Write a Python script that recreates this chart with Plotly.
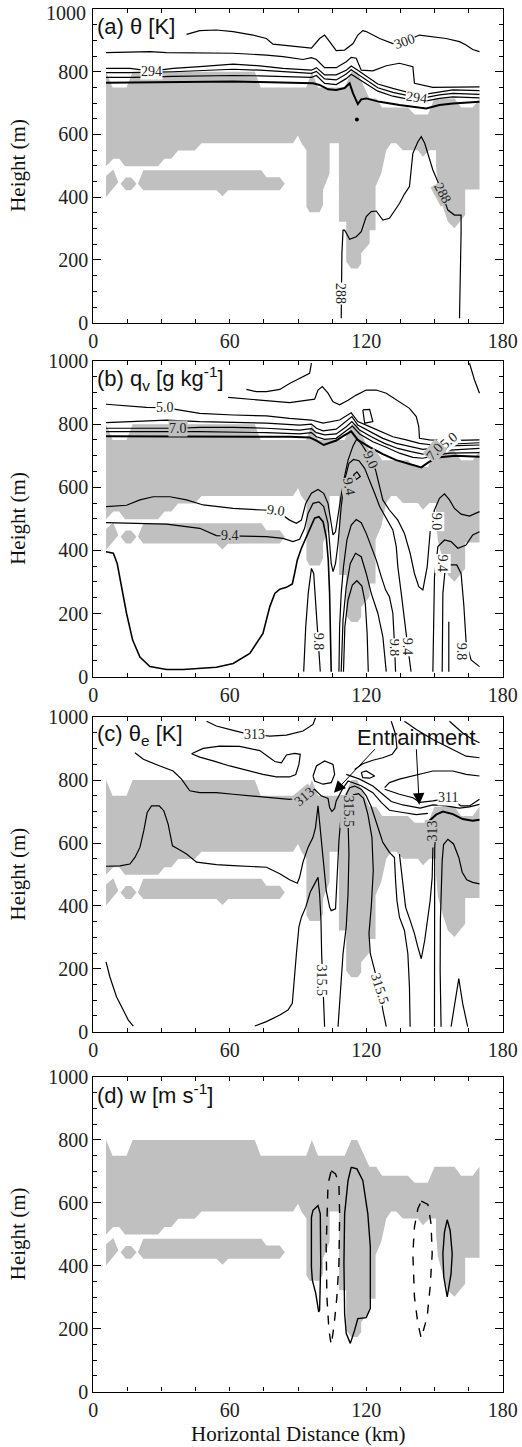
import plotly.graph_objects as go

# ---------------- axis ticks / texts ----------------
x_tick_step = 60
y_tick_step = 200
panel_titles = ["(a) θ [K]", "(b) q<sub>v</sub> [g kg<sup>-1</sup>]",
                "(c) θ<sub>e</sub> [K]", "(d) w [m s<sup>-1</sup>]"]
y_title = "Height (m)"
x_title = "Horizontal Distance (km)"
top_tick_label = "1000"

# ---------------- cloud mask (km, m) ----------------
cloud_main = [(5.6, 800), (8.5, 750), (14.6, 750), (17.3, 800), (71.0, 800), (73.6, 750), (93.6, 750),
              (96.1, 800), (98.8, 750), (110.5, 750), (113.5, 800), (116.0, 800), (121.4, 715), (124.4, 715),
              (127.0, 686), (138.3, 686), (141.3, 664), (147.1, 664), (150.0, 715), (158.8, 715), (161.7, 686),
              (166.8, 686), (169.8, 715), (169.8, 425), (163.5, 425), (163.5, 343), (158.8, 301), (155.9, 322),
              (153.7, 370), (151.5, 430), (150.7, 500), (150.7, 550), (147.8, 550), (144.9, 529), (142.7, 550),
              (136.1, 550), (133.2, 572), (131.0, 572), (128.8, 550), (126.6, 476), (124.1, 434), (124.1, 295),
              (121.5, 295), (121.5, 253), (117.8, 221), (117.8, 189), (116.3, 173), (113.4, 173), (111.2, 194),
              (111.2, 322), (108.0, 322), (108.0, 572), (103.9, 572), (103.9, 476), (101.0, 423), (101.0, 375),
              (99.5, 352), (95.1, 352), (93.7, 370), (93.7, 550), (91.5, 572), (90.0, 597), (87.8, 572),
              (47.6, 572), (44.6, 549), (37.3, 549), (34.3, 523), (31.3, 523), (28.5, 499), (13.9, 499),
              (11.4, 523), (8.8, 523), (5.6, 499)]
cloud_blob = [(5.6, 468), (8.8, 488), (11.0, 448), (5.6, 401)]
cloud_diamond = [(12.0, 443), (14.3, 463), (16.6, 463), (19.0, 443), (16.6, 422), (14.3, 422)]
cloud_band = [(19.6, 443), (22.0, 486), (73.9, 486), (76.1, 464), (82.0, 464), (84.2, 443), (82.0, 422),
              (59.3, 422), (56.8, 403), (54.1, 422), (22.0, 422)]

# ---------------- (a) theta contours ----------------
a_300 = [(41.0, 919), (46.8, 931), (54.1, 933), (61.5, 928), (70.2, 917), (76.1, 906), (79.0, 888), (86.3, 882),
         (95.9, 875), (99.5, 906), (101.7, 917), (103.9, 896), (106.8, 867), (110.5, 869), (114.2, 890),
         (116.3, 917), (118.5, 931), (120.0, 928), (125.9, 906), (131.7, 890), (136.8, 896), (143.4, 917),
         (149.3, 912), (155.1, 906), (161.0, 896), (163.9, 885), (166.8, 871), (169.8, 864)]
a_298 = [(5.6, 861), (17.6, 863), (24.9, 864), (32.2, 861), (46.8, 859), (61.5, 859), (76.1, 853), (83.4, 848),
         (92.2, 839), (95.9, 845), (98.1, 839), (101.7, 813), (106.8, 813), (111.2, 832), (113.4, 846),
         (115.6, 843), (117.8, 805), (122.9, 803), (128.8, 819), (134.6, 827), (140.5, 816), (141.2, 763),
         (149.3, 750), (161.0, 750), (169.8, 752)]
a_294 = [(5.6, 811), (16.1, 811), (25.6, 802), (35.1, 811), (46.8, 816), (61.5, 824), (73.2, 819), (83.4, 811),
         (95.9, 805), (98.1, 813), (101.7, 790), (106.8, 790), (111.2, 805), (113.4, 818), (116.3, 805),
         (120.0, 786), (125.1, 761), (131.7, 747), (139.0, 733), (144.2, 726), (152.2, 736), (158.1, 742),
         (169.8, 740)]
a_292 = [(5.6, 797), (16.1, 797), (35.1, 800), (46.8, 803), (61.5, 808), (73.2, 805), (83.4, 800), (95.9, 795),
         (98.1, 801), (101.7, 777), (106.8, 774), (111.2, 793), (113.4, 806), (116.3, 792), (120.0, 774),
         (125.1, 749), (131.7, 734), (139.0, 722), (144.2, 715), (152.2, 726), (158.1, 731), (169.8, 728)]
a_290 = [(5.6, 782), (17.6, 782), (35.1, 785), (46.8, 787), (61.5, 788), (73.2, 787), (83.4, 785), (95.9, 782),
         (98.1, 788), (101.7, 763), (106.8, 759), (111.2, 778), (113.4, 792), (116.3, 778), (120.0, 761),
         (125.1, 738), (131.7, 722), (139.0, 712), (144.2, 704), (152.2, 715), (158.1, 720), (169.8, 717)]
a_289 = [(5.6, 765), (17.6, 766), (32.2, 768), (46.8, 769), (61.5, 769), (73.2, 767), (83.4, 765), (96.6, 763),
         (99.5, 758), (103.2, 744), (106.8, 742), (110.5, 748), (112.7, 763), (114.2, 731), (116.3, 697),
         (117.8, 712), (120.0, 715), (125.9, 704), (134.6, 694), (142.0, 686), (146.4, 683), (152.2, 694),
         (158.1, 699), (169.8, 704)]
a_288 = [(109.0, 14), (109.0, 125), (109.3, 221), (109.8, 295), (110.5, 295), (112.7, 266), (115.6, 274),
         (117.8, 290), (120.0, 338), (122.2, 354), (124.4, 356), (127.3, 327), (130.2, 333), (134.6, 380),
         (136.8, 410), (139.0, 434), (140.5, 540), (142.7, 577), (144.2, 593), (145.7, 572), (147.1, 540),
         (149.3, 487), (151.5, 449), (155.9, 359), (158.8, 343), (161.7, 343), (161.7, 285), (161.3, 125),
         (161.0, 14)]
a_dot = (115.9, 648)
a_labels = [("300", 136.8, 896, -20), ("294", 25.6, 802, 0), ("294", 142.0, 717, 8),
            ("288", 109.0, 94, 90), ("288", 153.7, 412, 62)]

# ---------------- (b) qv contours ----------------
b_top1 = [(67.3, 910), (71.7, 903), (76.1, 903), (82.0, 910), (86.3, 929), (90.7, 945), (95.1, 961), (95.9, 993)]
b_top2 = [(165.4, 993), (167.6, 940), (169.8, 898)]
b_loop = [(118.5, 845), (121.5, 847), (122.9, 808), (119.3, 803), (118.5, 845)]
b_4 = [(59.3, 885), (68.8, 879), (86.3, 868), (97.3, 879), (98.8, 908), (100.7, 919), (103.2, 898), (105.4, 871),
       (108.3, 861), (112.0, 876), (115.6, 892), (120.0, 908), (124.4, 908), (128.8, 898), (134.6, 871),
       (139.0, 850), (142.0, 824), (143.1, 792), (143.4, 755), (147.8, 750), (155.1, 748), (169.8, 750)]
b_50 = [(5.6, 863), (17.6, 855), (23.4, 853), (31.5, 852), (38.0, 845), (46.8, 834), (61.5, 829), (76.1, 826),
        (86.3, 818), (95.9, 813), (101.0, 803), (108.3, 813), (113.4, 836), (116.3, 808), (121.5, 792),
        (126.6, 776), (131.7, 760), (137.6, 750), (143.4, 739), (149.3, 734), (155.9, 737), (162.4, 739),
        (169.8, 741)]
b_60 = [(5.6, 805), (17.6, 808), (32.2, 813), (46.8, 808), (61.5, 805), (76.1, 803), (90.7, 797), (95.9, 800),
        (98.1, 787), (101.0, 779), (106.8, 784), (111.2, 808), (113.7, 824), (116.3, 797), (121.5, 776),
        (127.3, 755), (133.2, 739), (139.0, 729), (144.9, 720), (150.7, 725), (156.6, 731), (169.8, 734)]
b_70 = [(5.6, 787), (17.6, 787), (37.3, 787), (46.8, 790), (61.5, 790), (76.1, 787), (90.7, 781), (95.9, 786),
        (98.1, 773), (101.7, 766), (106.8, 769), (111.2, 792), (113.7, 808), (117.1, 781), (122.2, 760),
        (128.0, 739), (133.9, 723), (139.7, 713), (144.9, 705), (150.7, 713), (156.6, 718), (169.8, 723)]
b_80 = [(5.6, 776), (17.6, 776), (46.8, 776), (76.1, 773), (90.7, 769), (95.9, 773), (98.1, 760), (101.7, 752),
        (106.8, 755), (111.2, 779), (113.9, 794), (117.1, 769), (122.9, 744), (128.8, 727), (134.6, 708),
        (140.5, 695), (144.9, 692), (150.7, 702), (156.6, 708), (169.8, 710)]
b_85 = [(5.6, 762), (46.8, 762), (86.3, 760), (95.1, 758), (98.1, 748), (101.3, 734), (103.9, 741), (106.8, 748),
        (109.8, 762), (113.4, 777), (116.3, 750), (121.5, 727), (127.3, 705), (133.2, 686), (139.0, 674),
        (144.2, 663), (147.8, 681), (152.2, 695), (159.3, 700), (169.8, 697)]
b_90 = [(5.6, 539), (14.6, 543), (20.5, 560), (26.3, 570), (33.7, 570), (41.0, 560), (48.3, 544), (61.5, 533),
        (74.6, 528), (80.5, 526), (86.3, 496), (89.3, 486), (91.5, 496), (93.4, 549), (95.9, 581), (98.8, 593),
        (101.3, 581), (103.2, 549), (104.6, 486), (105.4, 449), (106.5, 459), (108.0, 528), (109.8, 612),
        (112.0, 686), (114.2, 731), (115.9, 754), (118.2, 734), (120.7, 705), (122.2, 686), (124.1, 655),
        (125.9, 602), (127.3, 560), (130.2, 528), (133.9, 496), (136.8, 454), (139.3, 391), (141.2, 327),
        (143.1, 285), (144.9, 275), (146.8, 348), (148.3, 475), (150.0, 528), (152.2, 565), (154.4, 579),
        (156.6, 560), (158.8, 533), (161.7, 515), (165.4, 509), (169.8, 523)]
b_94 = [(5.6, 488), (17.6, 486), (32.2, 483), (46.8, 470), (54.1, 447), (60.0, 446), (67.3, 446), (76.1, 444),
        (83.4, 438), (87.8, 428), (90.7, 435), (92.9, 470), (94.4, 517), (96.6, 549), (99.2, 554), (101.3, 539),
        (103.2, 486), (103.9, 412), (104.6, 359), (105.4, 333), (106.5, 359), (107.6, 422), (109.0, 539),
        (110.5, 623), (112.4, 676), (114.4, 688), (116.8, 684), (119.3, 660), (121.5, 623), (123.7, 581),
        (125.9, 539), (128.8, 502), (131.7, 465), (133.2, 412), (133.9, 348), (135.4, 264), (136.8, 190),
        (137.9, 116), (139.7, 16)]
b_94r = [(149.3, 16), (149.6, 158), (150.0, 317), (151.5, 412), (154.4, 433), (157.3, 428), (160.3, 407),
         (163.9, 417), (166.8, 449), (169.8, 459)]
b_94loop = [(114.4, 639), (115.9, 649), (117.4, 634), (115.6, 625), (114.4, 639)]
b_98 = [(5.6, 396), (8.8, 391), (10.5, 359), (12.4, 285), (14.6, 201), (17.3, 116), (20.5, 62), (24.9, 32),
        (32.2, 23), (39.5, 23), (46.8, 26), (54.1, 30), (61.5, 42), (68.8, 74), (74.6, 137), (77.6, 222),
        (79.8, 264), (82.0, 277), (84.9, 283), (87.5, 294), (88.5, 327), (89.7, 370), (91.5, 407), (93.7, 444),
        (95.4, 475), (97.3, 502), (99.2, 507), (101.0, 491), (102.4, 444), (103.3, 370), (103.9, 264),
        (104.3, 158), (104.6, 16)]
b_98b = [(108.0, 16), (108.3, 158), (109.0, 264), (110.0, 348), (111.5, 433), (113.4, 480), (115.6, 498),
         (117.8, 488), (120.0, 454), (122.2, 412), (124.4, 370), (126.6, 317), (128.5, 275), (130.2, 253),
         (131.7, 201), (132.4, 106), (132.9, 16)]
b_102 = [(109.0, 16), (109.8, 180), (111.2, 285), (113.0, 359), (115.3, 391), (117.8, 380), (120.0, 327),
         (122.2, 264), (125.1, 201), (127.3, 127), (128.8, 16)]
b_106 = [(110.0, 16), (110.6, 158), (112.0, 243), (113.9, 290), (115.9, 304), (118.1, 287), (119.6, 232),
         (120.4, 137), (120.9, 16)]
b_98t = [(92.5, 16), (93.4, 158), (94.5, 264), (95.9, 343), (96.9, 327), (98.1, 211), (98.9, 106), (99.8, 16)]
b_98r = [(153.4, 16), (153.7, 264), (154.8, 348), (157.3, 354), (159.8, 354), (161.7, 327), (162.9, 227),
         (163.9, 110), (166.1, 53), (169.8, 32)]
b_98s = [(156.3, 174), (156.3, 16)]
b_labels = [("5.0", 31.5, 852, 0), ("7.0", 37.3, 787, 0), ("9.0", 80.5, 526, 8), ("9.4", 60.0, 446, 0),
            ("9.0", 122.2, 686, 65), ("9.4", 112.4, 602, 80), ("9.0", 150.7, 491, 90), ("9.4", 153.7, 359, 90),
            ("9.8", 98.8, 111, 90), ("9.8", 132.4, 90, 90), ("9.4", 137.9, 95, 90), ("9.8", 161.7, 79, 90),
            ("5.0", 156.4, 748, -40), ("7.0", 150.2, 713, -50)]

# ---------------- (c) theta_e contours ----------------
c_top = [(49.8, 987), (54.1, 972), (61.5, 958), (65.9, 950), (71.0, 945), (77.6, 940), (84.9, 943), (92.2, 956),
         (96.6, 977), (97.7, 998)]
c_tongue = [(43.2, 884), (48.3, 901), (55.6, 908), (64.4, 907), (73.2, 894), (76.8, 876), (79.8, 859),
            (82.7, 855), (84.9, 880), (88.5, 885), (91.0, 882), (90.4, 850), (89.0, 818), (86.3, 810),
            (80.5, 810), (74.6, 818), (67.3, 831), (60.0, 845), (52.7, 861), (46.8, 873), (43.2, 884)]
c_313 = [(18.3, 887), (22.0, 866), (29.3, 845), (35.1, 829), (38.8, 803), (42.4, 766), (46.8, 760), (54.1, 760),
         (61.5, 755), (70.2, 750), (76.1, 745), (86.3, 739), (92.9, 747), (97.3, 771), (100.2, 750),
         (103.2, 742), (103.9, 713), (104.9, 700), (106.1, 710), (106.8, 734), (109.5, 771), (112.0, 797),
         (117.8, 782), (122.9, 760), (126.6, 729), (130.2, 704), (136.1, 697), (142.0, 690), (147.1, 694)]
c_loop1 = [(96.6, 813), (98.1, 845), (101.7, 861), (105.4, 850), (106.1, 818), (104.6, 792), (101.0, 787),
           (97.3, 797), (96.6, 813)]
c_loop2 = [(117.8, 824), (120.0, 829), (123.7, 813), (121.5, 806), (118.5, 808), (117.8, 824)]
c_t1 = [(131.0, 987), (132.9, 945), (133.5, 903), (131.4, 882), (127.3, 871), (122.9, 863), (118.5, 852),
        (114.9, 834)]
c_t2 = [(136.8, 987), (142.0, 961), (149.3, 929), (158.1, 898), (163.9, 876), (169.8, 871)]
c_t2b = [(156.6, 987), (162.4, 950), (166.8, 929), (169.8, 919)]
c_t3 = [(128.1, 776), (130.2, 792), (134.6, 803), (142.0, 816), (149.3, 829), (158.1, 829), (163.9, 818),
        (169.8, 813)]
c_311 = [(128.1, 771), (134.6, 755), (140.5, 744), (143.7, 729), (149.3, 734), (155.9, 742), (161.7, 718),
         (165.4, 718), (169.8, 739)]
c_t5 = [(111.2, 818), (117.1, 803), (122.9, 781), (127.3, 755), (131.0, 732), (136.1, 721), (143.7, 711),
        (149.3, 721), (155.1, 718), (161.0, 711), (165.4, 715), (169.8, 723)]
c_bold = [(147.8, 671), (150.7, 690), (153.7, 700), (158.1, 692), (162.4, 676), (166.8, 671), (169.8, 674)]
c_long = [(5.6, 526), (11.7, 527), (16.1, 533), (18.3, 554), (20.5, 586), (22.2, 639), (23.7, 697), (25.6, 718),
          (29.0, 718), (31.0, 702), (32.9, 660), (34.8, 591), (37.3, 581), (41.0, 565), (45.4, 539), (54.1, 531),
          (61.5, 528), (70.2, 526), (76.1, 523), (82.0, 502), (86.3, 483), (89.7, 472), (90.7, 491), (92.2, 539),
          (94.4, 586), (96.6, 618), (97.7, 649), (98.8, 718), (99.8, 649), (101.0, 544), (102.4, 449),
          (103.9, 396), (104.6, 385), (106.5, 391), (107.1, 480), (108.0, 607), (109.0, 692), (110.5, 744),
          (112.7, 776), (114.9, 781), (117.8, 771), (120.0, 750), (122.2, 715), (124.4, 665), (127.3, 602),
          (130.2, 570), (132.4, 554), (132.9, 480), (133.5, 417), (134.6, 364), (136.8, 322), (138.3, 248),
          (139.0, 143), (139.3, 16)]
c_v = [(134.6, 565), (136.1, 480), (137.3, 396), (139.3, 354), (141.2, 312), (142.7, 269), (144.2, 232),
       (145.7, 290), (147.1, 364), (148.1, 417), (149.0, 491), (149.3, 586)]
c_313r = [(150.0, 16), (150.0, 248), (150.0, 459), (150.1, 586), (150.7, 639), (151.2, 671)]
c_rr = [(152.9, 16), (152.5, 195), (152.6, 354), (153.4, 544), (154.0, 595), (155.9, 612), (158.4, 597),
        (160.7, 554), (162.2, 507), (164.2, 483), (166.8, 475), (169.8, 470)]
c_spike = [(157.3, 16), (158.8, 90), (160.7, 169), (162.4, 90), (164.6, 16)]
c_arch = [(71.0, 18), (76.1, 32), (82.0, 53), (85.6, 69), (87.5, 90), (88.2, 164), (89.3, 248), (90.4, 333),
          (91.5, 364), (93.4, 396), (95.4, 444), (97.3, 470), (98.8, 491), (99.5, 438), (100.1, 354),
          (100.4, 248), (101.0, 143), (101.3, 69), (101.7, 16)]
c_315 = [(107.6, 16), (108.8, 143), (109.8, 248), (111.2, 333), (112.0, 438), (112.4, 565), (112.0, 671),
         (112.7, 734), (114.4, 753), (116.6, 757), (118.8, 742), (120.7, 692), (122.5, 618), (123.1, 512),
         (122.2, 396), (121.2, 312), (121.8, 248), (123.7, 195), (125.9, 132), (127.3, 69), (128.8, 16)]
c_left = [(5.6, 222), (7.3, 174), (10.2, 111), (13.2, 69), (15.4, 37), (17.6, 18)]
c_labels = [("313", 71.0, 945, 0), ("313", 92.9, 747, -40), ("315.5", 112.0, 700, 90),
            ("315.5", 100.4, 164, 90), ("315.5", 125.9, 137, 72), ("311", 155.9, 745, 0),
            ("313", 149.3, 639, -90)]
entrain_text = ("Entrainment", 142.2, 937)
entrain_arrows = [((124.4, 903), (105.8, 760)), ((142.0, 903), (143.3, 722))]

# ---------------- (d) w contours ----------------
d_up1 = [(95.9, 554), (96.6, 576), (98.8, 591), (99.8, 565), (100.0, 407), (99.5, 259), (99.1, 253),
         (97.8, 312), (96.3, 354), (95.9, 396), (95.9, 554)]
d_dn1 = [(104.6, 702), (106.5, 692), (108.0, 660), (108.3, 565), (108.0, 407), (107.1, 301), (105.8, 206),
         (104.6, 148), (103.6, 195), (102.7, 301), (102.4, 459), (102.7, 586), (103.2, 660), (104.6, 702)]
d_up2 = [(113.4, 713), (115.9, 708), (118.5, 671), (120.7, 565), (121.8, 459), (121.8, 264), (120.0, 235),
         (116.3, 232), (114.9, 195), (113.0, 153), (111.2, 185), (110.5, 248), (110.2, 407), (110.5, 565),
         (112.0, 671), (113.4, 713)]
d_dn2 = [(144.2, 605), (147.1, 595), (148.5, 533), (149.0, 438), (148.1, 333), (146.8, 238), (144.2, 169),
         (142.7, 216), (141.2, 301), (140.5, 438), (141.2, 523), (142.7, 581), (144.2, 605)]
d_up3 = [(155.6, 546), (156.9, 512), (157.8, 438), (157.3, 375), (155.6, 301), (154.1, 364), (153.7, 438),
         (154.4, 507), (155.6, 546)]

# ---------------- figure ----------------
GRAY = "#c0c0c0"
SERIF = "Liberation Serif"
SANS = "Liberation Sans"
X_DOM = [93.3 / 522, 502.7 / 522]
H = 1447.0
W = 522.0
panel_px = [(9, 322.7), (361, 676.7), (717.2, 1031.7), (1077, 1391.5)]
CLOUDS = (cloud_main, cloud_blob, cloud_diamond, cloud_band)

fig = go.Figure()
axes = [("x", "y"), ("x2", "y2"), ("x3", "y3"), ("x4", "y4")]


def inside(px, py, poly):
    res = False
    n = len(poly)
    for i in range(n):
        x1, y1 = poly[i]
        x2, y2 = poly[(i + 1) % n]
        if (y1 > py) != (y2 > py):
            xi = x1 + (py - y1) * (x2 - x1) / (y2 - y1)
            if px < xi:
                res = not res
    return res


def add_poly(pts, p, fill=GRAY):
    fig.add_trace(go.Scatter(x=[q[0] for q in pts], y=[q[1] for q in pts], mode="lines", fill="toself",
                             fillcolor=fill, line=dict(width=0, color=fill), xaxis=axes[p][0],
                             yaxis=axes[p][1], hoverinfo="skip", showlegend=False))


def add_line(pts, p, width=1.2, dash="solid"):
    fig.add_trace(go.Scatter(x=[q[0] for q in pts], y=[q[1] for q in pts], mode="lines",
                             line=dict(width=width, color="black", dash=dash),
                             xaxis=axes[p][0], yaxis=axes[p][1], hoverinfo="skip", showlegend=False))


for p in range(4):
    for poly in CLOUDS:
        add_poly(poly, p)

# panel a
for ln in (a_300, a_298, a_294, a_292, a_290, a_288):
    add_line(ln, 0)
add_line(a_289, 0, width=2.0)
fig.add_trace(go.Scatter(x=[a_dot[0]], y=[a_dot[1]], mode="markers", marker=dict(size=4, color="black"),
                         xaxis="x", yaxis="y", hoverinfo="skip", showlegend=False))
# panel b
for ln in (b_top1, b_top2, b_loop, b_4, b_50, b_60, b_70, b_80, b_90, b_94, b_94r, b_94loop,
           b_98b, b_102, b_106, b_98t, b_98r, b_98s):
    add_line(ln, 1)
add_line(b_85, 1, width=2.0)
add_line(b_98, 1, width=1.6)
# panel c
for ln in (c_top, c_tongue, c_313, c_loop1, c_loop2, c_t1, c_t2, c_t2b, c_t3, c_311, c_t5, c_long, c_v,
           c_313r, c_rr, c_spike, c_arch, c_315, c_left):
    add_line(ln, 2)
add_line(c_bold, 2, width=2.0)
# panel d
for ln in (d_up1, d_up2, d_up3):
    add_line(ln, 3, width=1.4)
for ln in (d_dn1, d_dn2):
    add_line(ln, 3, width=1.4, dash="dash")

layout = dict(width=522, height=1447, margin=dict(l=0, r=0, t=0, b=0, autoexpand=False),
              plot_bgcolor="white", paper_bgcolor="white", showlegend=False, autosize=False)
annotations = []
for p in range(4):
    top, bot = panel_px[p]
    ydom = [1 - bot / H, 1 - top / H]
    sx = "" if p == 0 else str(p + 1)
    layout["xaxis" + sx] = dict(domain=X_DOM, range=[0, 180], tick0=0, dtick=x_tick_step, ticks="inside",
                                ticklen=4, tickwidth=1, tickcolor="black",
                                minor=dict(tick0=0, dtick=15, ticks="inside", ticklen=4, tickcolor="black"),
                                showline=True, linecolor="black", linewidth=1.3, mirror="ticks",
                                showgrid=False, zeroline=False, anchor="y" + sx,
                                tickfont=dict(family=SERIF, size=20, color="#222"))
    layout["yaxis" + sx] = dict(domain=ydom, range=[0, 1000], tick0=0, dtick=y_tick_step, ticks="inside",
                                ticklen=8, tickwidth=1, tickcolor="black",
                                minor=dict(tick0=0, dtick=50, ticks="inside", ticklen=4, tickcolor="black"),
                                showline=True, linecolor="black", linewidth=1.3, mirror="ticks",
                                showgrid=False, zeroline=False, anchor="x" + sx,
                                tickfont=dict(family=SERIF, size=20, color="#222"))
    annotations.append(dict(text=panel_titles[p], x=0.6, y=945, xref="x" + sx, yref="y" + sx,
                            xanchor="left", yanchor="middle", showarrow=False,
                            font=dict(family=SANS, size=22, color="#111")))
    annotations.append(dict(text=y_title, x=18 / W, y=1 - (top + bot) / 2 / H, xref="paper", yref="paper",
                            textangle=-90, showarrow=False, xanchor="center", yanchor="middle",
                            font=dict(family=SERIF, size=21, color="#111")))

# top "1000" label of the first panel sits just below the frame edge (kept inside the page)
annotations.append(dict(text=top_tick_label, x=87.5 / W, y=1 - 13 / H, xref="paper", yref="paper",
                        xanchor="right", yanchor="middle", showarrow=False,
                        font=dict(family=SERIF, size=20, color="#222")))

annotations.append(dict(text=x_title, x=298 / W, y=1 - 1434 / H, xref="paper", yref="paper",
                        showarrow=False, xanchor="center", yanchor="middle",
                        font=dict(family=SERIF, size=21, color="#111")))


def add_labels(lbls, p):
    sx = "" if p == 0 else str(p + 1)
    for txt, lx, ly, ang in lbls:
        in_cloud = any(inside(lx, ly, poly) for poly in CLOUDS)
        annotations.append(dict(text=txt, x=lx, y=ly, xref="x" + sx, yref="y" + sx, textangle=ang,
                                showarrow=False, font=dict(family=SERIF, size=14, color="#222"),
                                bgcolor=GRAY if in_cloud else "white", borderpad=0))


add_labels(a_labels, 0)
add_labels(b_labels, 1)
add_labels(c_labels, 2)

annotations.append(dict(text=entrain_text[0], x=entrain_text[1], y=entrain_text[2], xref="x3", yref="y3",
                        showarrow=False, font=dict(family=SANS, size=22, color="#111")))
for (tx, ty), (hx, hy) in entrain_arrows:
    annotations.append(dict(text="", x=hx, y=hy, ax=tx, ay=ty, xref="x3", yref="y3", axref="x3", ayref="y3",
                            showarrow=True, arrowhead=2, arrowsize=2.3, arrowwidth=1, arrowcolor="black"))

layout["annotations"] = annotations
fig.update_layout(**layout)
fig.write_html("out.html", config={"responsive": False, "displayModeBar": False},
               post_script="document.body.style.margin='0px';document.body.style.padding='0px';")
